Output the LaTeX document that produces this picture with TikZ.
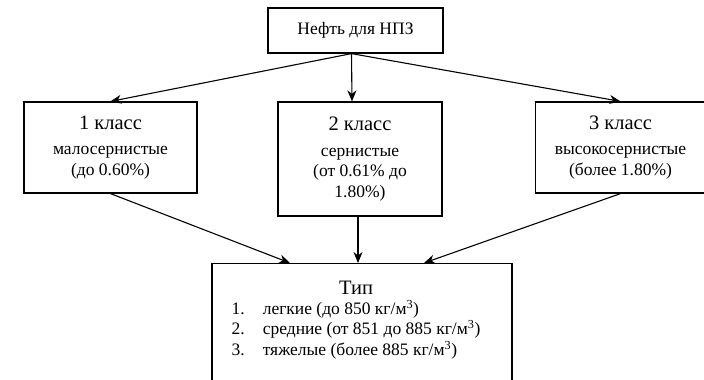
\documentclass[tikz,border=0pt]{standalone}
\usepackage{fontspec}
\setmainfont{Liberation Serif}
\newfontfamily\ruserif{Liberation Serif}
\usepackage{tikz}
\usetikzlibrary{positioning, arrows.meta}
\newcommand{\klass}[1]{{\fontsize{20.5}{26}\selectfont #1}}
\tikzset{
    base/.style={
        font=\ruserif\fontsize{17.5}{20.5}\selectfont,
        align=center
    },
    block/.style={
        base,
        rectangle,
        draw=black,
        line width=1.2pt,
        fill=white,
        inner sep=2pt
    },
    flow/.style={
        -{Stealth[length=11pt, width=9pt, inset=3.5pt]},
        line width=1.1pt,
        color=black
    }
}

\begin{document}
\begin{tikzpicture}[x=1pt, y=-1pt]
  \fill[white] (0,0) rectangle (704,380);
  \clip (0,0) rectangle (704,380);

  % Oil
  \node[block, minimum width=175, minimum height=45] (neft) at (355.5,30.5) {Нефть для НПЗ};

  % Classes
  \node[block, minimum width=173, minimum height=91] (kl1) at (110.5,147.5)
    {\klass{1 класс}\\[5pt] малосернистые\\ (до 0.60\%)};
  \node[block, minimum width=164, minimum height=114] (kl2) at (360,159)
    {\klass{2 класс}\\[5pt] сернистые\\ (от 0.61\% до\\ 1.80\%)};
  \node[block, minimum width=170, minimum height=91] (kl3) at (620.5,147.5)
    {\klass{3 класс}\\[5pt] высокосернистые\\ (более 1.80\%)};

  % Type
  \node[block, minimum width=300, minimum height=140, anchor=north] (tip) at (362,263) {};
  \node[base, below=15pt of tip.north, xshift=-6pt] (tiptxt) {\klass{Тип}\\[4pt]
    \begin{tabular}{@{}l@{\hspace{18pt}}l@{}}
      1. & легкие (до 850 кг/м\textsuperscript{3})\\
      2. & средние (от 851 до 885 кг/м\textsuperscript{3})\\
      3. & тяжелые (более 885 кг/м\textsuperscript{3})
    \end{tabular}};

  % Arrows
  \draw[flow] ([xshift=-4pt]neft.south) -- (kl1.north);
  \draw[flow] ([xshift=-4pt]neft.south) -- ([xshift=-8pt]kl2.north);
  \draw[flow] ([xshift=-4pt]neft.south) -- (kl3.north);
  \draw[flow] (kl1.south) -- ([xshift=-72pt]tip.north);
  \draw[flow] ([xshift=-2pt]kl2.south) -- ([xshift=-4pt]tip.north);
  \draw[flow] (kl3.south) -- ([xshift=62pt]tip.north);
\end{tikzpicture}
\end{document}
